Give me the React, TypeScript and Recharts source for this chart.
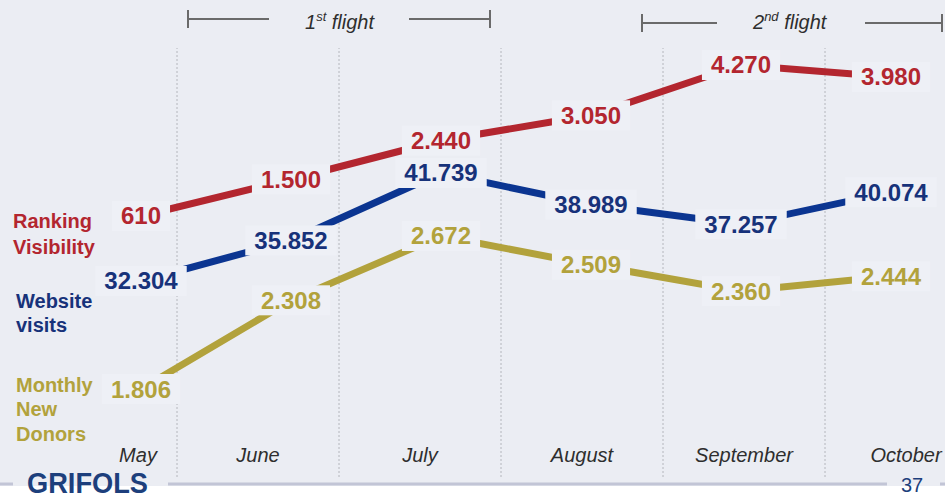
import { LineChart, Line, XAxis, YAxis, ReferenceLine, LabelList } from 'recharts';

const months = ['May', 'June', 'July', 'August', 'September', 'October'];
const ranking = [610, 1500, 2440, 3050, 4270, 3980];
const visits = [32304, 35852, 41739, 38989, 37257, 40074];
const donors = [1806, 2308, 2672, 2509, 2360, 2444];

const seriesNames = [
  { key: 'ranking', lines: ['Ranking', 'Visibility'] },
  { key: 'visits', lines: ['Website', 'visits'] },
  { key: 'donors', lines: ['Monthly', 'New', 'Donors'] },
];

const rows = months.map((month, i) => ({
  month,
  ranking: ranking[i],
  visits: visits[i],
  donors: donors[i],
}));

const BG = '#ebedf3';
const BOX = '#eef0f6';
const FONT = '"Liberation Sans", Arial, sans-serif';
const COLORS = {
  ranking: { line: '#b3262f', text: '#b3262f' },
  visits: { line: '#0b3591', text: '#17327a' },
  donors: { line: '#b2a23c', text: '#b2a23c' },
};

// width of one column of the slide's month table, months axis runs in these px units
const COL = 162;

const fmt = (v: number) => String(v).replace(/\B(?=(\d{3})+(?!\d))/g, '.');

function valueLabel(color: string) {
  return (props: any) => {
    const { x, y, value } = props;
    const s = fmt(value);
    const digits = s.replace(/\./g, '').length;
    const w = digits * 13.35 + (s.length - digits) * 6.7;
    return (
      <g>
        <rect x={x - w / 2 - 9} y={y - 15} width={w + 18} height={30} fill={BOX} />
        <text
          x={x}
          y={y}
          dy={8.5}
          textAnchor="middle"
          fill={color}
          fontFamily={FONT}
          fontWeight="bold"
          fontSize={24}
        >
          {s}
        </text>
      </g>
    );
  };
}

function MonthTick(props: any) {
  const { x, y, index } = props;
  // the May cell is narrower in the slide's table
  const shift = index === 0 ? 42 : 0;
  return (
    <text
      x={x + shift}
      y={y - 15}
      textAnchor="middle"
      fill="#2e2e2e"
      fontFamily={FONT}
      fontStyle="italic"
      fontSize={20}
    >
      {months[index]}
    </text>
  );
}

function Bracket({ x1, x2, y, label, sup, tx, tw }: any) {
  return (
    <g>
      <line x1={x1} x2={tx - 36} y1={y} y2={y} stroke="#6a6a6a" strokeWidth={2} />
      <line x1={tx + tw + 32} x2={x2} y1={y} y2={y} stroke="#6a6a6a" strokeWidth={2} />
      <line x1={x1} x2={x1} y1={y - 9} y2={y + 9} stroke="#6a6a6a" strokeWidth={2} />
      <line x1={x2} x2={x2} y1={y - 9} y2={y + 9} stroke="#6a6a6a" strokeWidth={2} />
      <text x={tx} y={29} fill="#2e2e2e" fontFamily={FONT} fontStyle="italic" fontSize={20}>
        {label}
        <tspan fontSize={13} dy={-8}>{sup}</tspan>
        <tspan dy={8}> flight</tspan>
      </text>
    </g>
  );
}

export default function App() {
  return (
    <div style={{ position: 'fixed', left: 0, top: 0, width: 945, height: 495, background: BG, overflow: 'hidden' }}>
      <svg width={945} height={495} style={{ position: 'absolute', left: 0, top: 0 }}>
        <rect x={0} y={486} width={945} height={9} fill="#ffffff" />
        <line x1={0} x2={13} y1={484} y2={484} stroke="#c2c5d6" strokeWidth={3} />
        <line x1={168} x2={887} y1={484} y2={484} stroke="#c2c5d6" strokeWidth={3} />
        <line x1={940} x2={945} y1={484} y2={484} stroke="#c2c5d6" strokeWidth={3} />
        <text
          x={27}
          y={493}
          textLength={121}
          lengthAdjust="spacingAndGlyphs"
          fill="#1d3f7c"
          fontFamily={FONT}
          fontWeight="bold"
          fontSize={29}
        >
          GRIFOLS
        </text>
        <text x={901} y={492} fill="#1d3f7c" fontFamily={FONT} fontSize={20}>
          37
        </text>
        <Bracket x1={188} x2={490} y={19} label="1" sup="st" tx={305} tw={72} />
        <Bracket x1={642} x2={942} y={23} label="2" sup="nd" tx={753} tw={80} />
        {seriesNames.map((s, si) => {
          const tops = [228, 308, 392];
          return (
            <text
              key={s.key}
              x={si === 0 ? 13 : 16}
              y={tops[si]}
              fill={COLORS[s.key as keyof typeof COLORS].text}
              fontFamily={FONT}
              fontWeight="bold"
              fontSize={20}
            >
              {s.lines.map((t, i) => (
                <tspan key={t} x={si === 0 ? 13 : 16} dy={i === 0 ? 0 : si === 0 ? 26 : 24.3}>
                  {t}
                </tspan>
              ))}
            </text>
          );
        })}
      </svg>
      <div style={{ position: 'absolute', left: 0, top: 0 }}>
        <LineChart width={945} height={495} data={rows} margin={{ top: 48, right: 0, bottom: 17, left: 0 }}>
          <XAxis xAxisId="p" dataKey="month" hide padding={{ left: 141, right: 54 }} />
          <XAxis
            xAxisId="m"
            type="number"
            dataKey="noSuchKey"
            domain={[-15, 930]}
            allowDataOverflow
            ticks={months.map((_, i) => COL * i + COL / 2)}
            tick={<MonthTick />}
            axisLine={false}
            tickLine={false}
            tickSize={0}
            tickMargin={0}
            height={1}
            interval={0}
          />
          <YAxis yAxisId="r" hide domain={[-5717, 4682]} />
          <YAxis yAxisId="v" hide domain={[15181, 52659]} />
          <YAxis yAxisId="d" hide domain={[1308, 3736]} />
          {[1, 2, 3, 4, 5].map((g) => (
            <ReferenceLine
              key={g}
              xAxisId="m"
              yAxisId="r"
              x={COL * g}
              stroke="#b4b6bc"
              strokeDasharray="2 2"
            />
          ))}
          {(['ranking', 'visits', 'donors'] as const).map((k) => (
            <Line
              key={k}
              xAxisId="p"
              yAxisId={k === 'ranking' ? 'r' : k === 'visits' ? 'v' : 'd'}
              dataKey={k}
              stroke={COLORS[k].line}
              strokeWidth={7}
              strokeLinecap="butt"
              dot={false}
              activeDot={false}
              isAnimationActive={false}
            >
              <LabelList dataKey={k} content={valueLabel(COLORS[k].text)} />
            </Line>
          ))}
        </LineChart>
      </div>
    </div>
  );
}
